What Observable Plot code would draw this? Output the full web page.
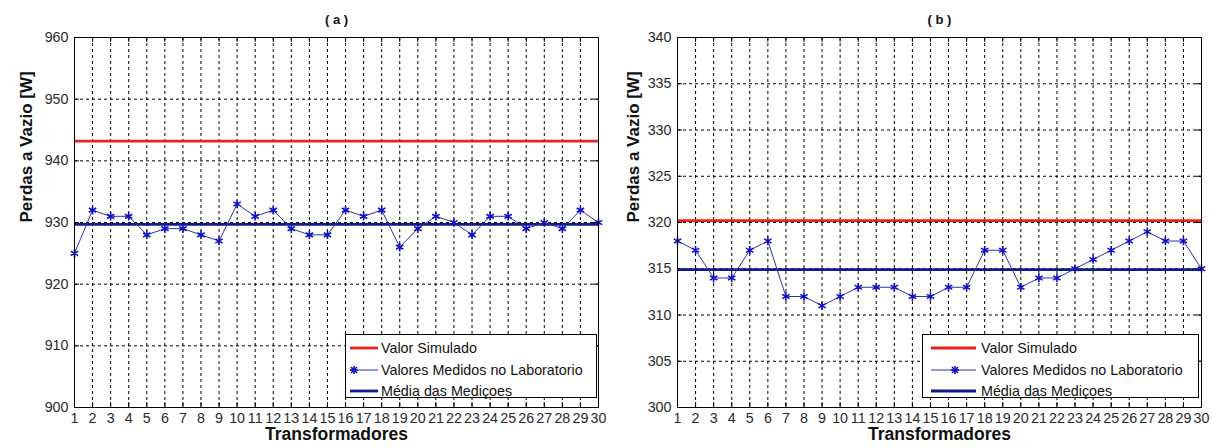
<!DOCTYPE html>
<html>
<head>
<meta charset="utf-8">
<script src="https://cdn.jsdelivr.net/npm/d3@7"></script>
<script src="https://cdn.jsdelivr.net/npm/@observablehq/plot@0.6"></script>
<style>
  body { margin: 0; background: #fff; font-family: "Liberation Sans", Arial, sans-serif; }
  #wrap { position: relative; width: 1212px; height: 448px; overflow: hidden; }
  .panel { position: absolute; top: 0; }
  .legend { position: absolute; box-sizing: border-box; border: 1px solid #000; background: #fff; }
  .legend .row { position: absolute; left: 0; height: 20px; }
  .legend .row svg { position: absolute; left: 0; top: 0; }
  .legend .row span { position: absolute; top: 1px; font-size: 14.3px; color: #111; white-space: nowrap; line-height: 18px; }
</style>
</head>
<body>
<div id="wrap"></div>
<script>
// ---------- data ----------
const transformadores = [1,2,3,4,5,6,7,8,9,10,11,12,13,14,15,16,17,18,19,20,21,22,23,24,25,26,27,28,29,30];

const medidosA = [925,932,931,931,928,929,929,928,927,933,931,932,929,928,928,932,931,932,926,929,931,930,928,931,931,929,930,929,932,930];
const simuladoA = 943.2;
const mediaA = 929.7;
const yTicksA = [900,910,920,930,940,950,960];

const medidosB = [318,317,314,314,317,318,312,312,311,312,313,313,313,312,312,313,313,317,317,313,314,314,315,316,317,318,319,318,318,315];
const simuladoB = 320.2;
const mediaB = 314.9;
const yTicksB = [300,305,310,315,320,325,330,335,340];

const titles = ["( a )", "( b )"];
const yLabel = "Perdas a Vazio [W]";
const xLabel = "Transformadores";
const legendLabels = ["Valor Simulado", "Valores Medidos no Laboratorio", "Média das Mediçoes"];

// ---------- style ----------
const RED = "#e8231d";
const NAVY = "#0f1a8e";
const LINEBLUE = "#2f33a8";
const STARBLUE = "#1010c0";
const FONT = "'Liberation Sans', Arial, sans-serif";

function panel({values, sim, mean, yTicks, title, width, marginLeft, marginRight, yLabelDx}) {
  const data = transformadores.map((t, i) => ({t, v: values[i]}));
  const marginTop = 37, marginBottom = 41, height = 448;
  const fh = height - marginTop - marginBottom;
  const fw = width - marginLeft - marginRight;
  const tick = 5;
  return Plot.plot({
    width, height, marginLeft, marginRight, marginTop, marginBottom,
    style: {fontFamily: FONT, fontSize: "14.3px", color: "#2a2a2a", background: "#fff", overflow: "visible"},
    x: {type: "linear", domain: [1, 30]},
    y: {type: "linear", domain: [yTicks[0], yTicks[yTicks.length - 1]]},
    marks: [
      Plot.gridX(transformadores, {stroke: "#000", strokeOpacity: 1, strokeDasharray: "3,3", strokeWidth: 1}),
      Plot.gridY(yTicks, {stroke: "#000", strokeOpacity: 1, strokeDasharray: "3,3", strokeWidth: 1}),
      // inward tick marks
      Plot.ruleX(transformadores, {x: d => d, stroke: "#000", insetTop: fh - tick}),
      Plot.ruleX(transformadores, {x: d => d, stroke: "#000", insetBottom: fh - tick}),
      Plot.ruleY(yTicks, {y: d => d, stroke: "#000", insetRight: fw - tick}),
      Plot.ruleY(yTicks, {y: d => d, stroke: "#000", insetLeft: fw - tick}),
      // series
      Plot.ruleY([sim], {stroke: RED, strokeWidth: 2.8}),
      Plot.ruleY([mean], {stroke: NAVY, strokeWidth: 2.8}),
      Plot.line(data, {x: "t", y: "v", stroke: LINEBLUE, strokeWidth: 1}),
      Plot.dot(data, {x: "t", y: "v", symbol: "asterisk", r: 4, stroke: STARBLUE, strokeWidth: 1.6}),
      Plot.frame({stroke: "#000", strokeWidth: 1}),
      // axes labels
      Plot.axisX(transformadores, {anchor: "bottom", tickSize: 0, tickPadding: 5, label: null, fontSize: 14.3}),
      Plot.axisY(yTicks, {anchor: "left", tickSize: 0, tickPadding: 6, label: null, fontSize: 14.3}),
      Plot.text([title], {frameAnchor: "top", dy: -23, fontWeight: "bold", fontSize: 13, fill: "#111"}),
      Plot.text([xLabel], {frameAnchor: "bottom", dy: 32, fontWeight: "bold", fontSize: 17.5, fill: "#111"}),
      Plot.text([yLabel], {frameAnchor: "left", dx: yLabelDx, rotate: -90, fontWeight: "bold", fontSize: 17, fill: "#111"})
    ]
  });
}

function legend({left, top, width, lineX1, lineX2, starX, textX}) {
  const box = document.createElement("div");
  box.className = "legend";
  box.style.left = left + "px";
  box.style.top = top + "px";
  box.style.width = width + "px";
  box.style.height = "64px";
  const rows = [
    {label: legendLabels[0], color: RED, w: 2.8, star: false, top: 3},
    {label: legendLabels[1], color: LINEBLUE, w: 1, star: true, top: 25},
    {label: legendLabels[2], color: NAVY, w: 2.8, star: false, top: 46}
  ];
  for (const r of rows) {
    const row = document.createElement("div");
    row.className = "row";
    row.style.top = r.top + "px";
    row.style.width = width + "px";
    let svg = `<svg width="${textX}" height="20"><line x1="${lineX1}" x2="${lineX2}" y1="10" y2="10" stroke="${r.color}" stroke-width="${r.w}"/>`;
    if (r.star) {
      const s = 4;
      svg += `<g stroke="${STARBLUE}" stroke-width="1.6">` +
        `<line x1="${starX - s}" x2="${starX + s}" y1="10" y2="10"/>` +
        `<line x1="${starX}" x2="${starX}" y1="${10 - s}" y2="${10 + s}"/>` +
        `<line x1="${starX - 3}" x2="${starX + 3}" y1="7" y2="13"/>` +
        `<line x1="${starX - 3}" x2="${starX + 3}" y1="13" y2="7"/></g>`;
    }
    svg += `</svg>`;
    row.innerHTML = svg + `<span style="left:${textX}px">${r.label}</span>`;
    box.appendChild(row);
  }
  return box;
}

const wrap = document.getElementById("wrap");

const pa = panel({values: medidosA, sim: simuladoA, mean: mediaA, yTicks: yTicksA, title: titles[0],
  width: 606, marginLeft: 74, marginRight: 8, yLabelDx: -48});
pa.classList.add("panel"); pa.style.left = "0px";
wrap.appendChild(pa);

const pb = panel({values: medidosB, sim: simuladoB, mean: mediaB, yTicks: yTicksB, title: titles[1],
  width: 606, marginLeft: 71, marginRight: 11, yLabelDx: -44});
pb.classList.add("panel"); pb.style.left = "606px";
wrap.appendChild(pb);

wrap.appendChild(legend({left: 345, top: 334, width: 252, lineX1: 4, lineX2: 32, starX: 8, textX: 35}));
wrap.appendChild(legend({left: 922, top: 334, width: 277, lineX1: 8, lineX2: 53, starX: 32, textX: 58}));
</script>
</body>
</html>
